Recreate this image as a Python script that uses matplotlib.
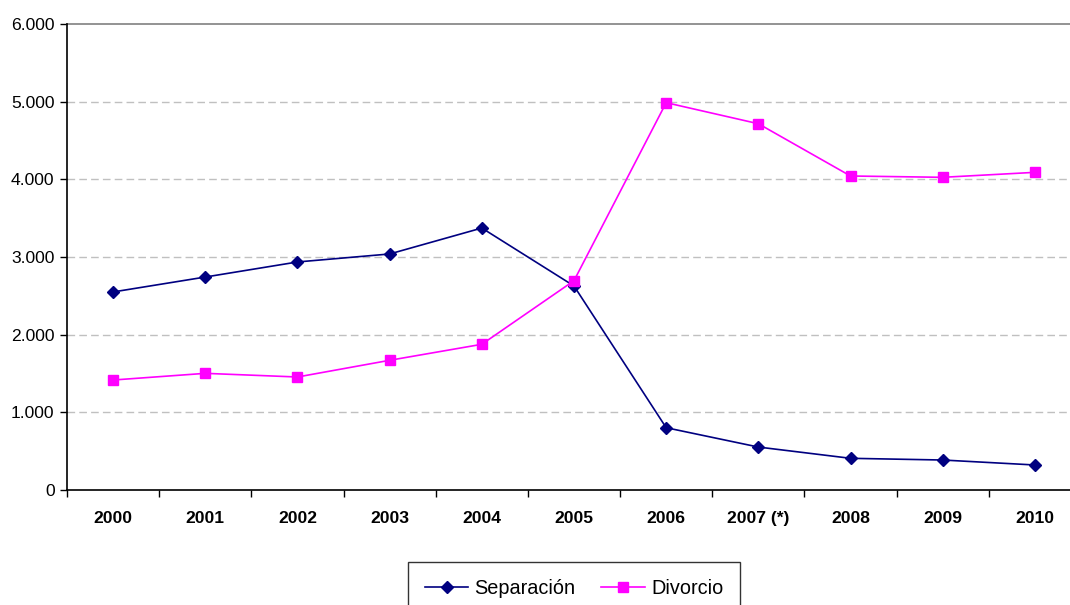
import matplotlib
matplotlib.use("Agg")
import matplotlib.pyplot as plt
from matplotlib.ticker import FixedLocator, FuncFormatter

plt.rcParams['font.family'] = ['Liberation Sans', 'DejaVu Sans']

years = ['2000', '2001', '2002', '2003', '2004', '2005', '2006', '2007 (*)', '2008', '2009', '2010']
separacion = [2550, 2742, 2936, 3039, 3373, 2627, 802, 553, 408, 386, 322]
divorcio = [1416, 1502, 1455, 1670, 1876, 2695, 4987, 4716, 4043, 4026, 4090]
yticks = [0, 1000, 2000, 3000, 4000, 5000, 6000]

W, H = 1070, 605
fig = plt.figure(figsize=(W / 100, H / 100), dpi=100)
ax = fig.add_axes([67 / W, 1 - 490 / H, (1081 - 67) / W, (490 - 24) / H])

x = list(range(len(years)))
ax.plot(x, separacion, color='#000080', lw=1.2, marker='D', ms=6.5,
        markerfacecolor='#000080', markeredgecolor='#000080', label='Separación', zorder=3)
ax.plot(x, divorcio, color='#FF00FF', lw=1.2, marker='s', ms=6.5,
        markerfacecolor='#FF00FF', markeredgecolor='#FF00FF', label='Divorcio', zorder=3)

ax.set_xlim(-0.5, len(years) - 0.5)
ax.set_ylim(0, 6000)

for v in yticks[1:-1]:
    ax.axhline(v, color='#c0c0c0', lw=1.0, ls=(0, (5.5, 3)), zorder=1)
ax.axhline(6000, color='#808080', lw=1.2, zorder=2, clip_on=False)

ax.set_xticks(x)
ax.set_xticklabels(years, fontweight='bold', fontsize=12.6)
ax.xaxis.set_minor_locator(FixedLocator([i - 0.5 for i in range(len(years) + 1)]))
ax.tick_params(axis='x', which='major', length=0, pad=15)
ax.tick_params(axis='x', which='minor', length=5, width=1, direction='out', color='black')

ax.set_yticks(yticks)
ax.yaxis.set_major_formatter(FuncFormatter(lambda v, p: f"{int(v):,}".replace(',', '.')))
ax.tick_params(axis='y', length=5, width=1, direction='out', labelsize=12.6, pad=4, color='black')

for s in ['top', 'right']:
    ax.spines[s].set_visible(False)
ax.spines['left'].set_color('black')
ax.spines['bottom'].set_color('black')
ax.spines['left'].set_linewidth(1.2)
ax.spines['bottom'].set_linewidth(1.2)

leg = fig.legend(loc='upper center', bbox_to_anchor=(574 / W, 1 - 562 / H), ncol=2,
                 fontsize=14.3, frameon=True, fancybox=False, edgecolor='black',
                 borderaxespad=0, handlelength=2.2, handletextpad=0.3, columnspacing=1.3,
                 borderpad=0.85)
leg.get_frame().set_linewidth(1.0)

fig.savefig('out.png', dpi=100)
